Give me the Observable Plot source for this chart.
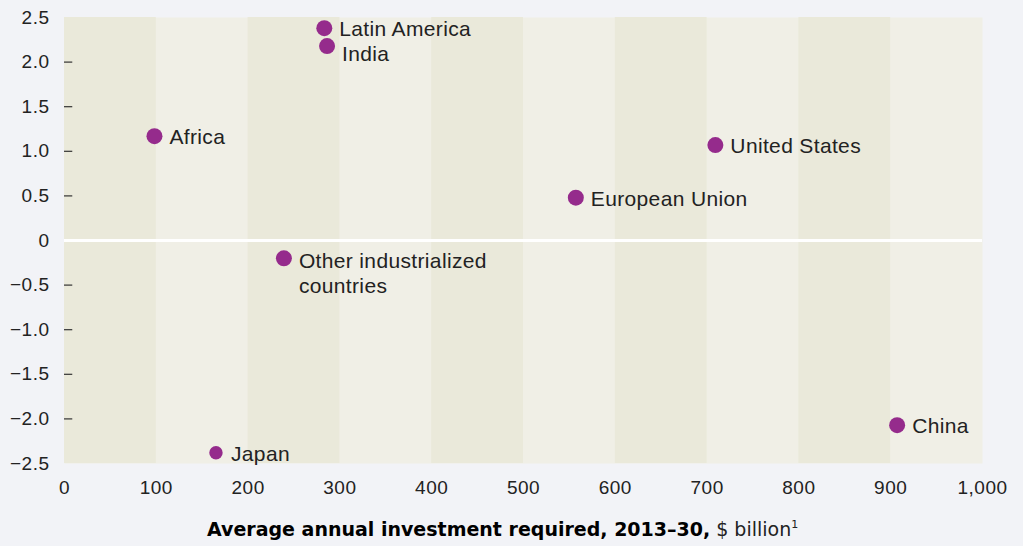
<!DOCTYPE html>
<html>
<head>
<meta charset="utf-8">
<script src="https://cdn.jsdelivr.net/npm/d3@7"></script>
<script src="https://cdn.jsdelivr.net/npm/@observablehq/plot@0.6"></script>
<style>
  html, body { margin: 0; padding: 0; background: #f2f3f7; }
  body { width: 1023px; height: 546px; position: relative; overflow: hidden; font-family: "Liberation Sans", Arial, sans-serif; }
  #chart { position: absolute; left: 0; top: 0; }
  #xtitle { position: absolute; left: 207px; top: 518px; font-family: "DejaVu Sans", sans-serif; font-size: 19px; color: #000; white-space: nowrap; }
  #xtitle b { font-weight: bold; }
  #xtitle .reg { color: #222; }
  #xtitle sup { font-size: 11px; vertical-align: 8px; line-height: 0; }
  #chart g[aria-label="text"] text { letter-spacing: 0.35px; }
  #chart g[aria-label="x-axis tick label"] text, #chart g[aria-label="y-axis tick label"] text { letter-spacing: 0.5px; }
</style>
</head>
<body>
<div id="chart"></div>
<div id="xtitle"><b>Average annual investment required, 2013–30,</b> <span class="reg">$ billion<sup>1</sup></span></div>
<script>
const regions = ["Latin America", "India", "Africa", "United States", "European Union", "Other industrialized\ncountries", "Japan", "China"];
const investment = [283, 286, 98, 709, 557, 239, 165, 907];
const growthGap = [2.38, 2.18, 1.17, 1.07, 0.48, -0.20, -2.38, -2.07];
const xTicks = [0, 100, 200, 300, 400, 500, 600, 700, 800, 900, 1000];
const yTicks = [2.5, 2.0, 1.5, 1.0, 0.5, 0, -0.5, -1.0, -1.5, -2.0, -2.5];
const yTickMarks = [2.0, 1.5, 1.0, 0.5, -0.5, -1.0, -1.5, -2.0];
const bandStarts = [0, 200, 400, 600, 800];

const data = regions.map((name, i) => ({name, x: investment[i], y: growthGap[i]}));

const fmtY = d => d === 0 ? "0" : d3.format(".1f")(d);
const labelStyle = {x: "x", y: "y", text: "name", textAnchor: "start", lineAnchor: "top", dx: 15, lineHeight: 1.2, fill: "#222", fontSize: 21};

const chart = Plot.plot({
  width: 1023,
  height: 505,
  marginLeft: 64,
  marginRight: 41,
  marginTop: 17,
  marginBottom: 42,
  style: {fontFamily: "'Liberation Sans', Arial, sans-serif", fontSize: "19px", background: "transparent", color: "#222"},
  x: {domain: [0, 1000]},
  y: {domain: [-2.5, 2.5]},
  r: {type: "identity"},
  marks: [
    Plot.frame({fill: "#f0efe6", stroke: "none"}),
    Plot.rect(bandStarts, {x1: d => d, x2: d => d + 100, fill: "#eae9da"}),
    Plot.ruleY([0], {stroke: "white", strokeWidth: 3}),
    Plot.ruleY(yTickMarks, {x1: 0, x2: 9, stroke: "#333", strokeWidth: 1.2}),
    Plot.axisY(yTicks, {tickSize: 0, tickPadding: 15, tickFormat: fmtY, fill: "#222", label: null}),
    Plot.axisX(xTicks, {tickSize: 0, tickPadding: 17, tickFormat: d3.format(","), fill: "#222", label: null}),
    Plot.dot(data, {x: "x", y: "y", r: d => d.name === "Japan" ? 6.7 : 8, fill: "#952b8c", stroke: "none"}),
    Plot.text(data.filter(d => d.name !== "India" && !d.name.includes("\n")), {...labelStyle, dy: -10}),
    Plot.text(data.filter(d => d.name === "India"), {...labelStyle, dy: -3}),
    Plot.text(data.filter(d => d.name.includes("\n")), {...labelStyle, dy: -8})
  ]
});
document.getElementById("chart").appendChild(chart);
</script>
</body>
</html>
